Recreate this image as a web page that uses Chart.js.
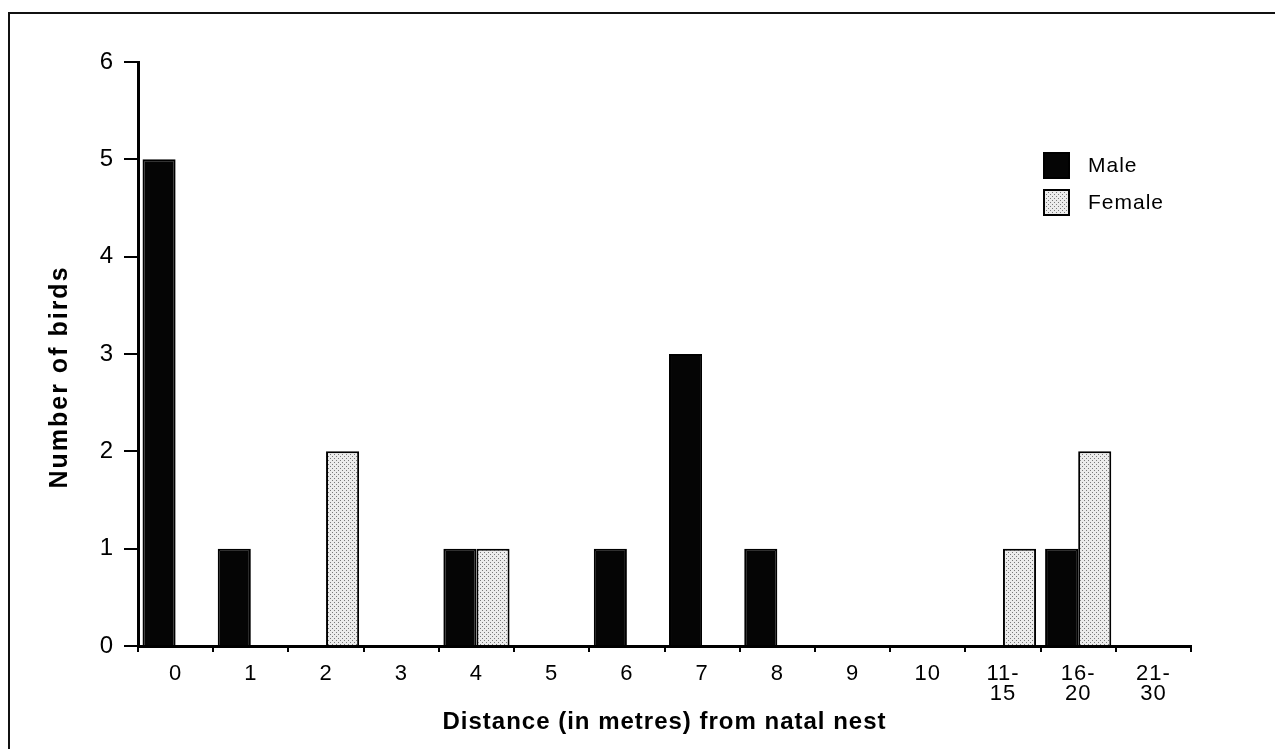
<!DOCTYPE html>
<html>
<head>
<meta charset="utf-8">
<title>Distance from natal nest</title>
<script src="https://cdn.jsdelivr.net/npm/chart.js@4/dist/chart.umd.min.js"></script>
<style>
	html, body { margin: 0; padding: 0; background: #fff; overflow: hidden; }
	.frame {
		position: absolute; left: 8px; top: 12px; width: 1300px; height: 760px;
		border-top: 2px solid #111; border-left: 2px solid #111;
	}
	.wrap { position: absolute; left: 0; top: 0; width: 1275px; height: 749px; }
</style>
</head>
<body>
<div class="frame"></div>
<div class="wrap"><canvas id="dispersal-chart"></canvas></div>
<script>
(function () {
	'use strict';

	var distances = [ '0', '1', '2', '3', '4', '5', '6', '7', '8', '9', '10', [ '11-', '15' ], [ '16-', '20' ], [ '21-', '30' ] ];
	var males = [ 5, 1, 0, 0, 1, 0, 1, 3, 1, 0, 0, 0, 1, 0 ];
	var females = [ 0, 0, 2, 0, 1, 0, 0, 0, 0, 0, 0, 1, 2, 0 ];
	var yTicks = [ 0, 1, 2, 3, 4, 5, 6 ];

	var fontFamily = '"Liberation Sans", Arial, Helvetica, sans-serif';

	function stipple() {
		var c = document.createElement( 'canvas' );
		c.width = 4;
		c.height = 4;
		var g = c.getContext( '2d' );
		g.fillStyle = '#ececec';
		g.fillRect( 0, 0, 4, 4 );
		g.fillStyle = '#7a7a7a';
		g.fillRect( 0, 0, 1, 1 );
		g.fillRect( 2, 2, 1, 1 );
		return g.createPattern( c, 'repeat' );
	}

	// legend drawn by hand: two stacked boxes inside the plot, upper right
	var boxLegend = {
		id: 'boxLegend',
		afterDraw: function ( chart ) {
			var ctx = chart.ctx;
			ctx.save();
			ctx.font = '21px ' + fontFamily;
			ctx.textBaseline = 'middle';
			chart.data.datasets.forEach( function ( ds, i ) {
				var x = 1043;
				var y = 152 + i * 37;
				ctx.fillStyle = ds.backgroundColor;
				ctx.fillRect( x, y, 27, 27 );
				ctx.lineWidth = 2;
				ctx.strokeStyle = '#000';
				ctx.strokeRect( x + 1, y + 1, 25, 25 );
				ctx.fillStyle = '#000';
				ctx.fillText( ds.label, 1088, y + 14 );
			} );
			ctx.restore();
		},
	};

	// y title sits a little below the middle of the axis in the original
	var yTitle = {
		id: 'yTitle',
		afterDraw: function ( chart ) {
			var ctx = chart.ctx;
			var text = chart.options.scales.y.title.text;
			ctx.save();
			ctx.letterSpacing = '2px';
			ctx.font = 'bold 25px ' + fontFamily;
			ctx.fillStyle = '#000';
			ctx.textAlign = 'center';
			ctx.textBaseline = 'middle';
			ctx.translate( 60, 377 );
			ctx.rotate( -Math.PI / 2 );
			ctx.fillText( text, 0, 0 );
			ctx.restore();
		},
	};

	var spacing = {
		id: 'spacing',
		beforeDraw: function ( chart ) {
			chart.ctx.letterSpacing = '1px';
		},
	};

	new Chart( document.getElementById( 'dispersal-chart' ), {
		type: 'bar',
		data: {
			labels: distances,
			datasets: [ {
				label: 'Male',
				data: males,
				backgroundColor: '#050505',
				borderColor: '#000',
				borderWidth: 2,
			}, {
				label: 'Female',
				data: females,
				backgroundColor: stipple(),
				borderColor: '#000',
				borderWidth: 2,
			} ],
		},
		options: {
			responsive: true,
			maintainAspectRatio: false,
			animation: false,
			datasets: { bar: { categoryPercentage: 0.88, barPercentage: 1 } },
			layout: { padding: { left: 46, top: 62, right: 84, bottom: 0 } },
			plugins: {
				legend: { display: false },
				tooltip: { enabled: false },
			},
			scales: {
				x: {
					offset: true,
					grid: { display: true, offset: true, drawOnChartArea: false, tickLength: 6, color: '#000', lineWidth: 2 },
					border: { display: true, color: '#000', width: 3 },
					ticks: {
						color: '#000',
						padding: 12,
						maxRotation: 0,
						autoSkip: false,
						font: { family: fontFamily, size: 22, lineHeight: 0.92 },
					},
					title: {
						display: true,
						text: 'Distance (in metres) from natal nest',
						color: '#000',
						padding: { top: 0, bottom: 12 },
						font: { family: fontFamily, size: 24, weight: 'bold', lineHeight: 1.2 },
					},
					afterFit: function ( scale ) { scale.height = 103; },
				},
				y: {
					min: yTicks[ 0 ],
					max: yTicks[ yTicks.length - 1 ],
					afterBuildTicks: function ( scale ) {
						scale.ticks = yTicks.map( function ( v ) { return { value: v }; } );
					},
					grid: { display: true, drawOnChartArea: false, tickLength: 14, color: '#000', lineWidth: 2 },
					border: { display: true, color: '#000', width: 3 },
					ticks: {
						color: '#000',
						padding: 10,
						font: { family: fontFamily, size: 24 },
					},
					title: {
						display: false,
						text: 'Number of birds',
					},
					afterFit: function ( scale ) { scale.width = 92; },
				},
			},
		},
		plugins: [ spacing, boxLegend, yTitle ],
	} );
}() );
</script>
</body>
</html>
